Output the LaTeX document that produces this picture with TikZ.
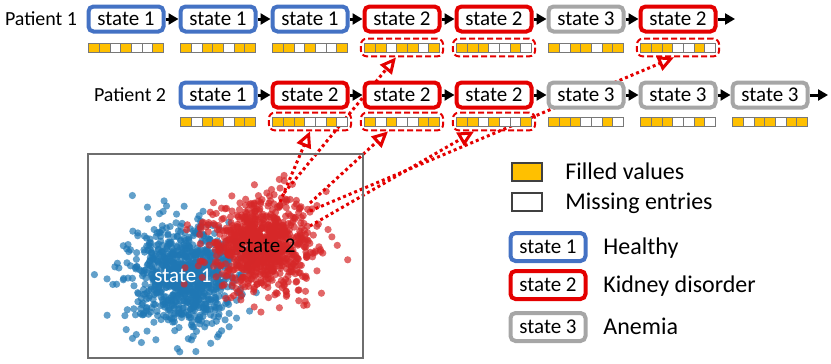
\documentclass[tikz,border=0pt]{standalone}
\usepackage{fontspec}
\setmainfont{Carlito}
\usetikzlibrary{arrows.meta,positioning,fit,calc,backgrounds}
\definecolor{hborder}{RGB}{68,114,196}
\definecolor{kborder}{RGB}{228,0,0}
\definecolor{aborder}{RGB}{166,166,166}
\definecolor{fillc}{RGB}{255,192,0}
\definecolor{cellborder}{RGB}{120,120,120}
\definecolor{dotblue}{RGB}{31,119,180}
\definecolor{dotred}{RGB}{214,39,40}
\definecolor{framec}{RGB}{110,110,110}
\colorlet{cell1}{fillc}
\colorlet{cell0}{white}

% one row of 7 observed entries under a state box
\newcommand{\obsbar}[4]{%
  \node[barnode] (#1) at (#2,#3) {};
  \foreach \v [count=\i] in {#4}
    \draw[cell, fill=cell\v] ($(#1.west)+({(\i-1)*75/7},-4.5)$) rectangle +({75/7},9);
}

\begin{document}
\begin{tikzpicture}[
  x=0.5pt, y=-0.5pt,
  font=\fontsize{10.5}{12}\selectfont,
  stbox/.style={
    draw, fill=white, rounded corners=2.5pt, line width=2pt,
    minimum width=37.5pt, minimum height=12.5pt, inner sep=0pt,
    text height=7.2pt, text depth=0.4pt
  },
  st1/.style={stbox, draw=hborder},
  st2/.style={stbox, draw=kborder},
  st3/.style={stbox, draw=aborder},
  barnode/.style={inner sep=0pt, outer sep=0pt,
    minimum width=37.5pt, minimum height=4.5pt},
  cell/.style={draw=cellborder, line width=0.4pt},
  hl/.style={draw=kborder, rounded corners=3pt, line width=1pt,
    dash pattern=on 3pt off 1.5pt, inner xsep=1.8pt, inner ysep=2.2pt},
  arr/.style={-{Triangle[length=5pt,width=5.5pt]}, line width=1.5pt},
  darr/.style={-{Triangle[open,length=8pt,width=7.5pt]}, draw=kborder,
    line width=1.5pt, dash pattern=on 1.5pt off 1.5pt},
  lab/.style={font=\fontsize{10.5}{12}\selectfont, inner sep=0pt,
    text height=7.2pt, text depth=0.5pt},
  pat/.style={font=\fontsize{10}{12}\selectfont, inner sep=0pt,
    text height=7pt, text depth=0.5pt},
  leg/.style={font=\fontsize{12}{14}\selectfont, anchor=west, inner sep=0pt,
    text height=8.2pt, text depth=0.9pt},
  swatch/.style={draw=black!75, line width=0.6pt, minimum width=15pt,
    minimum height=9pt, inner sep=0pt}
]
\useasboundingbox (0,0) rectangle (831,364);

% ---- Patient 1 ----
\foreach \s [count=\i] in {1,1,1,2,2,3,2}
  \node[st\s] (p1-\i) at ({126+92*(\i-1)},19) {state \s};
\node[pat, left=4.5pt of p1-1] (pat1) {Patient 1};
\foreach \i [evaluate=\i as \j using int(\i+1)] in {1,...,6}
  \draw[arr] (p1-\i) -- (p1-\j);
\coordinate (e1) at (735,19);
\draw[arr] (p1-7) -- (e1);

\obsbar{b1-1}{126}{47.5}{1,1,0,1,0,0,1}
\obsbar{b1-2}{218}{47.5}{1,0,1,1,0,1,1}
\obsbar{b1-3}{310}{47.5}{1,1,0,1,0,0,1}
\obsbar{b1-4}{402}{47.5}{1,1,0,1,1,0,1}
\obsbar{b1-5}{494}{47.5}{1,1,1,0,0,1,0}
\obsbar{b1-6}{586}{47.5}{1,0,1,1,0,1,1}
\obsbar{b1-7}{678}{47.5}{1,1,1,0,0,1,0}
\node[hl, fit=(b1-4)] (h1-4) {};
\node[hl, fit=(b1-5)] (h1-5) {};
\node[hl, fit=(b1-7)] (h1-7) {};

% ---- Patient 2 ----
\foreach \s [count=\i] in {1,2,2,2,3,3,3}
  \node[st\s] (p2-\i) at ({218+92*(\i-1)},95) {state \s};
\node[pat, left=6pt of p2-1] (pat2) {Patient 2};
\foreach \i [evaluate=\i as \j using int(\i+1)] in {1,...,6}
  \draw[arr] (p2-\i) -- (p2-\j);
\coordinate (e2) at (828,95);
\draw[arr] (p2-7) -- (e2);

\obsbar{b2-1}{218}{121.5}{1,0,1,1,0,1,1}
\obsbar{b2-2}{310}{121.5}{1,1,1,0,0,1,0}
\obsbar{b2-3}{402}{121.5}{1,0,1,0,0,1,1}
\obsbar{b2-4}{494}{121.5}{1,1,0,1,0,0,1}
\obsbar{b2-5}{586}{121.5}{1,1,1,0,0,1,0}
\obsbar{b2-6}{678}{121.5}{1,1,1,0,0,1,0}
\obsbar{b2-7}{770}{121.5}{1,0,1,1,0,1,1}
\node[hl, fit=(b2-2)] (h2-2) {};
\node[hl, fit=(b2-3)] (h2-3) {};
\node[hl, fit=(b2-4)] (h2-4) {};

% ---- Scatter of the two states ----
\begin{scope}[on background layer]
  \begin{scope}
    \clip (88,154) rectangle (363,358);
    \pgfmathsetseed{4217}
    \foreach \k in {1,...,900}{
      \pgfmathsetmacro\rr{sqrt(-2*ln(0.001+0.998*rnd))}
      \pgfmathsetmacro\aa{360*rnd}
      \fill[dotblue, fill opacity=0.7]
        ({184+27*\rr*cos(\aa)},{276+26*\rr*sin(\aa)}) circle[radius=3.6];
    }
    \foreach \k in {1,...,900}{
      \pgfmathsetmacro\rr{sqrt(-2*ln(0.001+0.998*rnd))}
      \pgfmathsetmacro\aa{360*rnd}
      \fill[dotred, fill opacity=0.7]
        ({264+25*\rr*cos(\aa)},{245+24*\rr*sin(\aa)}) circle[radius=3.6];
    }
  \end{scope}
\end{scope}
\draw[framec, line width=0.8pt] (88,154) rectangle (363,358);
\node[lab, text=white] (c1) at (183,276) {state 1};
\node[lab] (c2) at (267,246) {state 2};

% ---- Filled-value links ----
\coordinate (s1) at (280,202);
\coordinate (s2) at (284,193);
\coordinate (s3) at (310,203);
\coordinate (s4) at (310,211);
\coordinate (s5) at (310,226);
\begin{scope}[on background layer]
  \draw[darr] (s1) -- (h2-2.south);
  \draw[darr] (s2) -- ([xshift=-3pt]h1-4.south);
  \draw[darr] (s3) -- ([xshift=-7pt]h2-3.south);
  \draw[darr] (s5) -- ([xshift=-10pt]h2-4.south);
  \draw[darr] (s4) -- ([xshift=-2pt]h1-7.south);
\end{scope}

% ---- Legend ----
\node[swatch, fill=fillc] (lgf) at (527,172) {};
\node[leg] (lgft) at (565,172) {Filled values};
\node[swatch, fill=white] (lgm) at (527,202) {};
\node[leg] (lgmt) at (565,202) {Missing entries};
\node[st1, minimum height=14pt] (lg1) at (548,247) {state 1};
\node[leg] (lg1t) at (603,247) {Healthy};
\node[st2, minimum height=14pt] (lg2) at (548,285) {state 2};
\node[leg] (lg2t) at (603,285) {Kidney disorder};
\node[st3, minimum height=14pt] (lg3) at (548,327) {state 3};
\node[leg] (lg3t) at (603,327) {Anemia};

\end{tikzpicture}
\end{document}
